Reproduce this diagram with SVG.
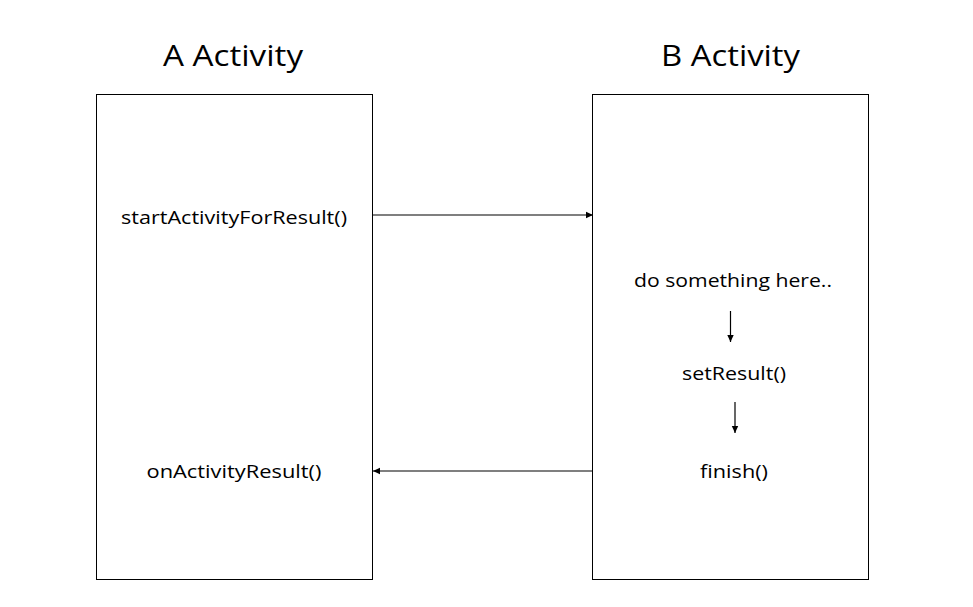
<svg xmlns="http://www.w3.org/2000/svg" width="973" height="607" viewBox="0 0 973 607">
<defs>
<marker id="ah" markerWidth="8" markerHeight="8" refX="7" refY="4" orient="auto" markerUnits="userSpaceOnUse">
<path d="M0,0.8 L7,4 L0,7.2 Z" fill="#000"/>
</marker>
<style>
.box{fill:#fff;stroke:#000;stroke-width:1}
.t{font-family:"Open Sans","Liberation Sans",sans-serif;fill:#000;text-anchor:middle}
.h{font-size:29px}
.s{font-size:18px}
.c{stroke:#000;stroke-width:1.2;fill:none;marker-end:url(#ah)}
</style>
</defs>
<rect width="973" height="607" fill="#fff"/>
<g id="nodeA">
<text class="t h" x="233" y="66" textLength="140" lengthAdjust="spacingAndGlyphs">A Activity</text>
<rect class="box" x="96.5" y="94.5" width="276" height="485"/>
<text class="t s" x="234" y="224" textLength="226" lengthAdjust="spacingAndGlyphs">startActivityForResult()</text>
<text class="t s" x="234" y="478" textLength="175" lengthAdjust="spacingAndGlyphs">onActivityResult()</text>
</g>
<g id="nodeB">
<text class="t h" x="730.5" y="66" textLength="139" lengthAdjust="spacingAndGlyphs">B Activity</text>
<rect class="box" x="592.5" y="94.5" width="276" height="485"/>
<text class="t s" x="733" y="287" textLength="198" lengthAdjust="spacingAndGlyphs">do something here..</text>
<text class="t s" x="734" y="380" textLength="104" lengthAdjust="spacingAndGlyphs">setResult()</text>
<text class="t s" x="734" y="478" textLength="68" lengthAdjust="spacingAndGlyphs">finish()</text>
</g>
<g id="connectors">
<line class="c" x1="373" y1="215" x2="593" y2="215"/>
<line class="c" x1="592" y1="471" x2="373" y2="471"/>
<line class="c" x1="730.5" y1="311" x2="730.5" y2="342"/>
<line class="c" x1="735" y1="402" x2="735" y2="433"/>
</g>
</svg>
